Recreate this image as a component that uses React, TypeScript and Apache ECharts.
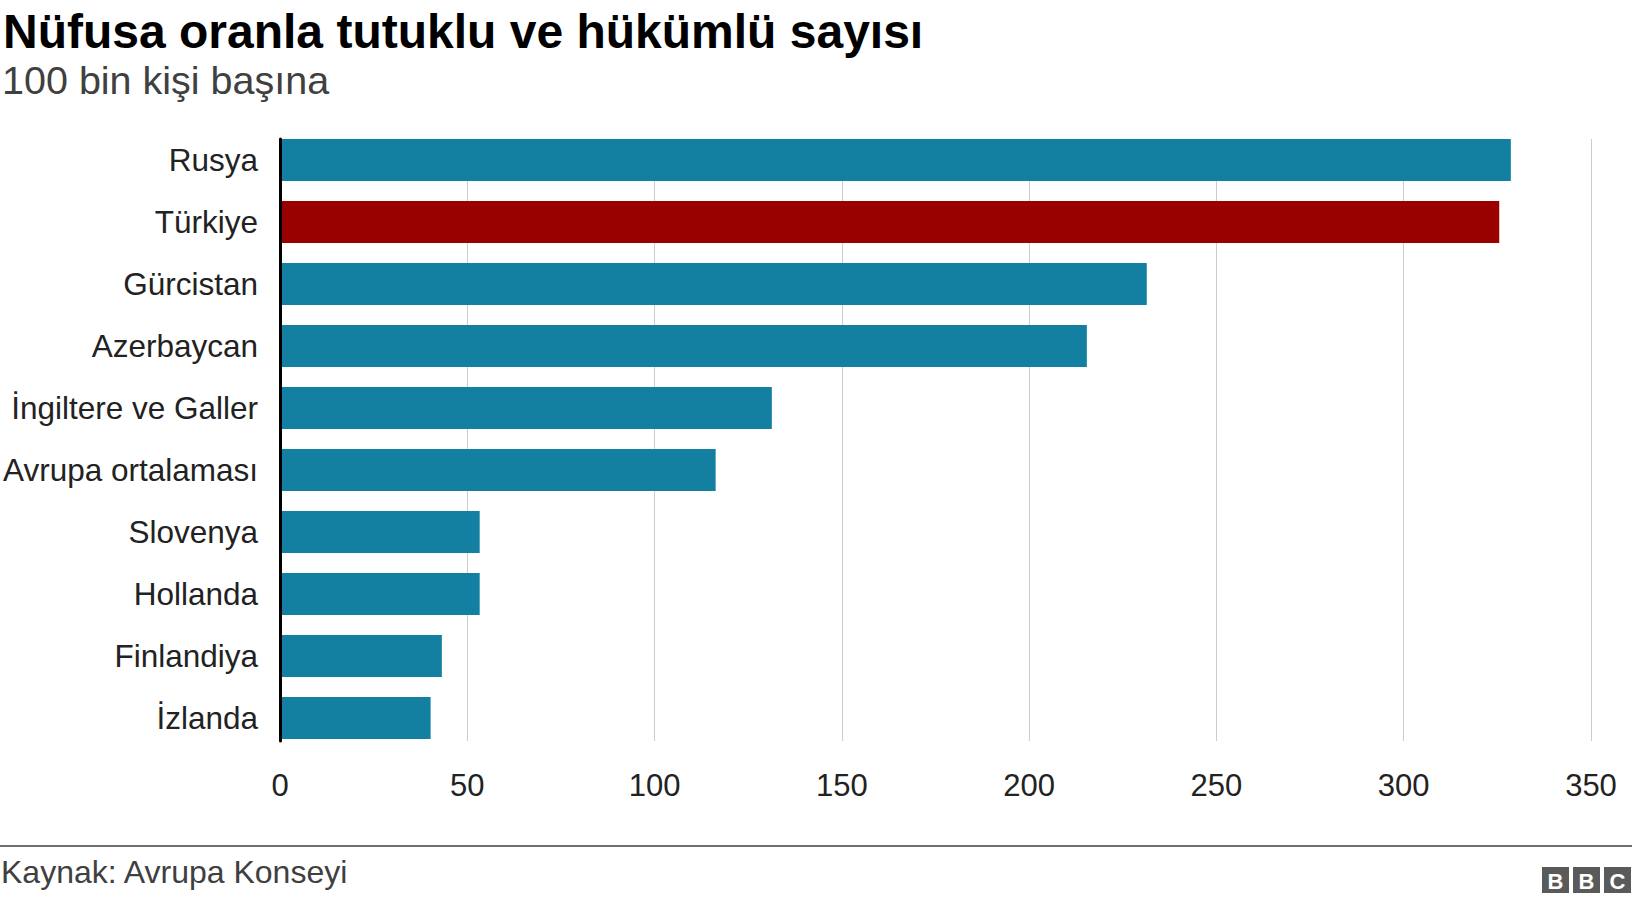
import React, { useEffect, useRef } from "react";
import * as echarts from "echarts";

const categories = [
  "Rusya",
  "Türkiye",
  "Gürcistan",
  "Azerbaycan",
  "İngiltere ve Galler",
  "Avrupa ortalaması",
  "Slovenya",
  "Hollanda",
  "Finlandiya",
  "İzlanda",
];
const values = [328.6, 325.5, 231.4, 215.4, 131.3, 116.3, 53.3, 53.3, 43.2, 40.2];
const highlighted = ["Türkiye"];
const xTicks = { min: 0, max: 350, interval: 50 };

const TITLE = "Nüfusa oranla tutuklu ve hükümlü sayısı";
const SUBTITLE = "100 bin kişi başına";
const SOURCE = "Kaynak: Avrupa Konseyi";

const FONT = "'Liberation Sans', Arial, Helvetica, sans-serif";
const TEAL = "#1380A1";
const RED = "#990000";

export default function App() {
  const ref = useRef<HTMLDivElement>(null);

  useEffect(() => {
    if (!ref.current) return;
    const chart = echarts.init(ref.current, undefined, { renderer: "svg" });
    const left = 280;
    const right = 41;
    chart.setOption({
      animation: false,
      backgroundColor: "#ffffff",
      textStyle: { fontFamily: FONT },
      grid: [
        { left, right, top: 129, height: 620, containLabel: false },
        { left, right, top: 139, height: 602, containLabel: false },
      ],
      xAxis: [
        {
          gridIndex: 0,
          type: "value",
          min: xTicks.min,
          max: xTicks.max,
          interval: xTicks.interval,
          axisLine: { show: false },
          axisTick: { show: false },
          axisLabel: { show: false },
          splitLine: { show: false },
        },
        {
          gridIndex: 1,
          type: "value",
          min: xTicks.min,
          max: xTicks.max,
          interval: xTicks.interval,
          axisLine: { show: false },
          axisTick: { show: false },
          axisLabel: {
            show: true,
            fontSize: 31,
            color: "#222222",
            fontFamily: FONT,
            margin: 44,
            verticalAlign: "middle",
          },
          splitLine: { show: true, lineStyle: { color: "#cccccc", width: 1 } },
        },
      ],
      yAxis: [
        {
          gridIndex: 0,
          type: "category",
          data: categories,
          inverse: true,
          axisLine: { show: false },
          axisTick: { show: false },
          axisLabel: {
            fontSize: 31.5,
            color: "#222222",
            fontFamily: FONT,
            margin: 22,
          },
          splitLine: { show: false },
        },
        {
          gridIndex: 1,
          type: "value",
          z: 10,
          axisLine: { show: true, onZero: false, lineStyle: { color: "#000000", width: 3 } },
          axisTick: { show: false },
          axisLabel: { show: false },
          splitLine: { show: false },
        },
      ],
      series: [
        {
          type: "bar",
          xAxisIndex: 0,
          yAxisIndex: 0,
          barWidth: 42,
          data: categories.map((c, i) => ({
            value: values[i],
            itemStyle: { color: highlighted.includes(c) ? RED : TEAL },
          })),
        },
      ],
      graphic: [
        {
          type: "text",
          left: 3,
          top: 7,
          style: {
            text: TITLE,
            font: `bold 48px ${FONT}`,
            fill: "#000000",
          },
        },
        {
          type: "text",
          left: 2,
          top: 60,
          style: {
            text: SUBTITLE,
            font: `39.5px ${FONT}`,
            fill: "#404040",
          },
        },
        {
          type: "rect",
          left: 0,
          top: 845,
          shape: { width: 1632, height: 2 },
          style: { fill: "#707070" },
        },
        {
          type: "text",
          left: 1,
          top: 856,
          style: {
            text: SOURCE,
            font: `32px ${FONT}`,
            fill: "#404040",
          },
        },
        {
          type: "group",
          left: 1542,
          top: 867,
          children: ["B", "B", "C"].map((ch, i) => ({
            type: "group",
            x: i * 31,
            y: 0,
            children: [
              {
                type: "rect",
                shape: { x: 0, y: 0, width: 27, height: 26 },
                style: { fill: "#5a5a5a" },
              },
              {
                type: "text",
                x: 13.5,
                y: 14,
                style: {
                  text: ch,
                  font: `bold 22px ${FONT}`,
                  fill: "#ffffff",
                  align: "center",
                  verticalAlign: "middle",
                },
              },
            ],
          })),
        },
      ],
    });
    return () => chart.dispose();
  }, []);

  return (
    <div
      ref={ref}
      style={{ position: "fixed", left: 0, top: 0, width: 1632, height: 902, background: "#fff" }}
    />
  );
}
